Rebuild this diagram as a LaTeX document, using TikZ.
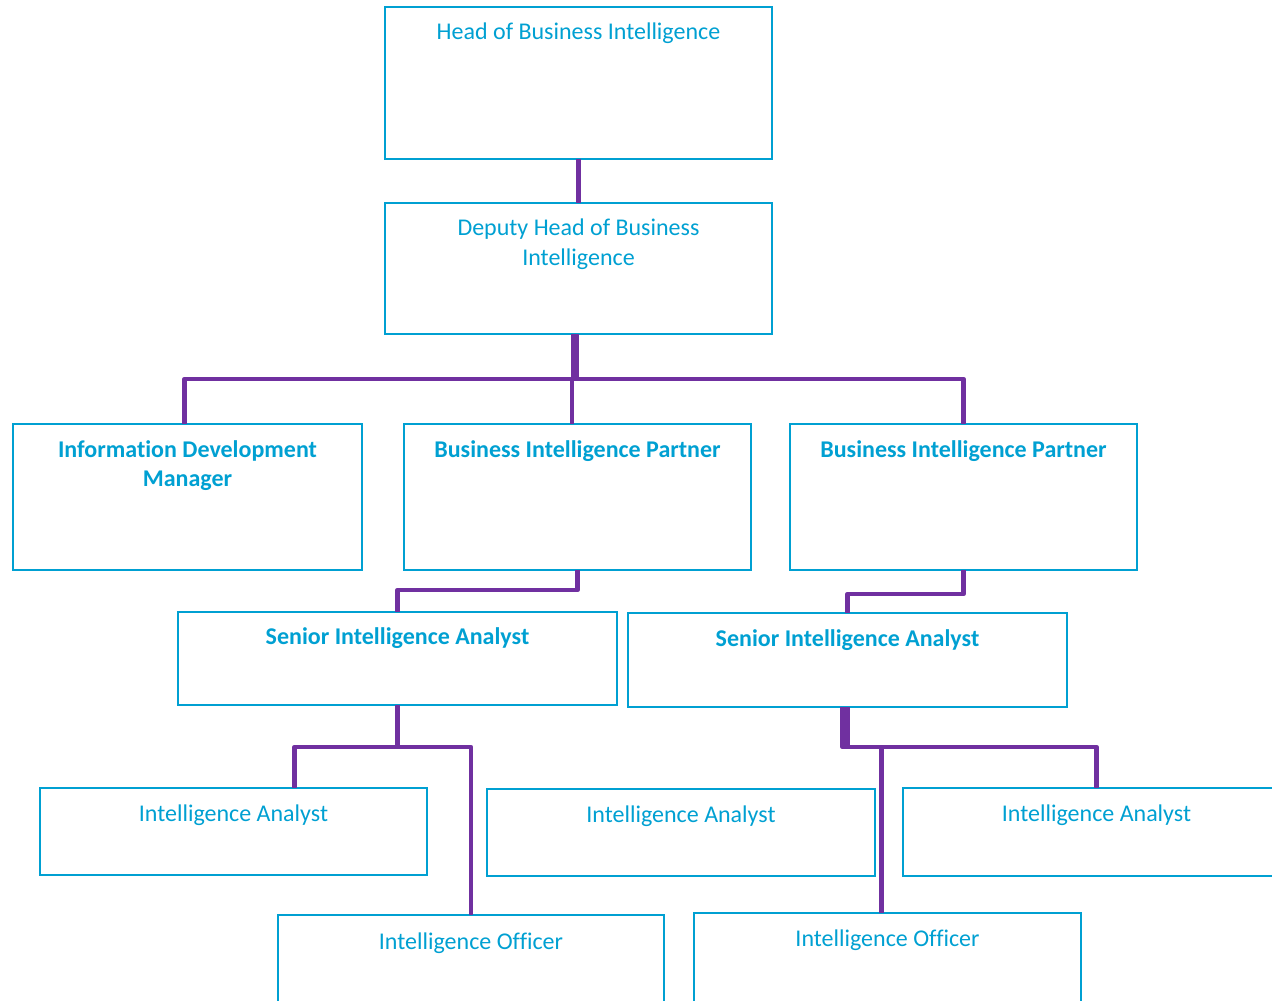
\documentclass[tikz,border=0pt]{standalone}
\usepackage{fontspec}
\setmainfont[Ligatures=NoCommon]{Carlito}
\usepackage{tikz}
\usetikzlibrary{positioning}
\definecolor{boxblue}{RGB}{0,160,210}
\definecolor{linkpurple}{RGB}{112,48,160}

\begin{document}
\begin{tikzpicture}[x=1pt,y=-1pt,
    post/.style={draw=boxblue,line width=2.5pt,anchor=north west,inner sep=0pt,outer sep=0pt},
    role/.style={text=boxblue,font=\fontsize{24}{29.5}\selectfont,align=center,inner sep=0pt,execute at begin node=\strut},
    rolebold/.style={role,font=\fontsize{24}{29.5}\selectfont\bfseries},
    link/.style={draw=linkpurple,line width=4.5pt,line join=round}]
  \useasboundingbox (0,0) rectangle (1272,1001);
  \clip (0,0) rectangle (1272,1001);
  % boxes
  \node[post,minimum width=387,minimum height=152] (head) at (385,7) {};
  \node[post,minimum width=387,minimum height=131] (deputy) at (385,203) {};
  \node[post,minimum width=349,minimum height=146] (idm) at (13,424) {};
  \node[post,minimum width=347,minimum height=146] (bip1) at (404,424) {};
  \node[post,minimum width=347,minimum height=146] (bip2) at (790,424) {};
  \node[post,minimum width=439,minimum height=93] (sia1) at (178,612) {};
  \node[post,minimum width=439,minimum height=94] (sia2) at (628,613) {};
  \node[post,minimum width=387,minimum height=87] (ia1) at (40,788) {};
  \node[post,minimum width=388,minimum height=87] (ia2) at (487,789) {};
  \node[post,minimum width=387,minimum height=88] (ia3) at (903,788) {};
  \node[post,minimum width=386,minimum height=100] (io1) at (278,915) {};
  \node[post,minimum width=387,minimum height=100] (io2) at (694,913) {};
  % titles
  \node[role,below=12pt of head.north] (head-t) {Head of Business Intelligence};
  \node[role,below=16pt of deputy.north] (deputy-t) {Deputy Head of Business\\Intelligence};
  \node[rolebold,below=16pt of idm.north] (idm-t) {Information Development\\Manager};
  \node[rolebold,below=13pt of bip1.north] (bip1-t) {Business Intelligence Partner};
  \node[rolebold,below=13pt of bip2.north] (bip2-t) {Business Intelligence Partner};
  \node[rolebold,below=12pt of sia1.north] (sia1-t) {Senior Intelligence Analyst};
  \node[rolebold,below=13pt of sia2.north] (sia2-t) {Senior Intelligence Analyst};
  \node[role,below=13pt of ia1.north] (ia1-t) {Intelligence Analyst};
  \node[role,below=13pt of ia2.north] (ia2-t) {Intelligence Analyst};
  \node[role,below=13pt of ia3.north] (ia3-t) {Intelligence Analyst};
  \node[role,below=14pt of io1.north] (io1-t) {Intelligence Officer};
  \node[role,below=13pt of io2.north] (io2-t) {Intelligence Officer};
  % links
  \coordinate (bus) at (572,379);
  \draw[link] (head.south) -- (deputy.north);
  \draw[link] ([xshift=-1.5pt]deputy.south) -- ([xshift=-1.5pt]deputy.south |- bus);
  \draw[link] ([xshift=-5pt]deputy.south) -- ([xshift=-5pt]deputy.south |- bus);
  \draw[link] ([xshift=-3pt]idm.north) |- (bus) -| (bip2.north);
  \draw[link] (bus) -- (bus |- bip1.north);
  \draw[link] (bip1.south) -- ++(0,20) -| (sia1.north);
  \draw[link] (bip2.south) -- ++(0,24) -| (sia2.north);
  \draw[link] (sia1.south) -- ++(0,42) coordinate (split1) -| ([xshift=61pt]ia1.north);
  \draw[link] (split1) -| (io1.north);
  \draw[link] (sia2.south) -- ++(0,40) coordinate (split2) -| (ia3.north);
  \draw[link] (split2) -| ([xshift=-6pt]io2.north);
  \draw[link] ([xshift=-5pt]sia2.south) |- (split2);
\end{tikzpicture}
\end{document}
